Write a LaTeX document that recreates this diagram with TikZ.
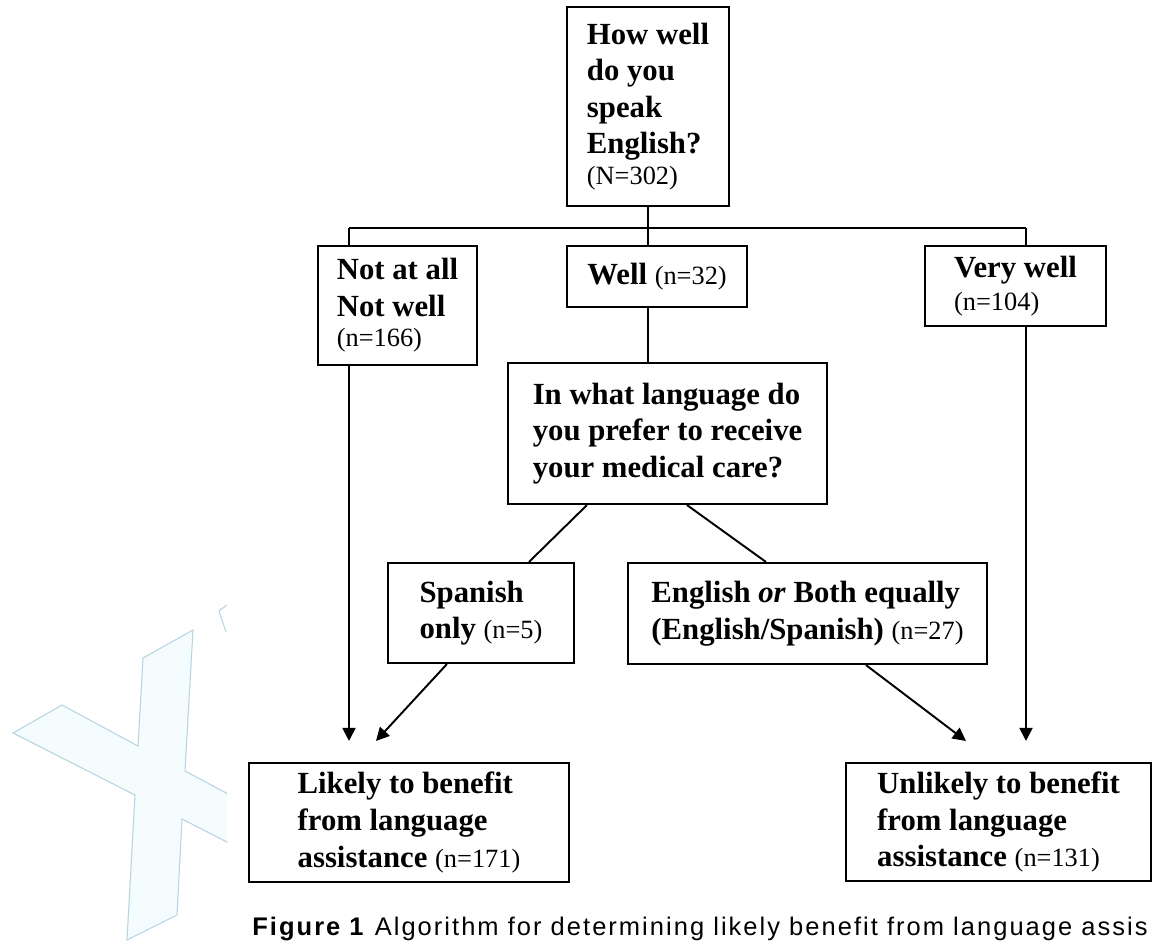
\documentclass[tikz,border=0pt]{standalone}
\usepackage{fontspec}
\setmainfont{Liberation Serif}
\newfontfamily\capfont[LetterSpace=8]{Liberation Sans}
\usepackage{tikz}
\usetikzlibrary{arrows.meta, calc, positioning}
\newcommand{\cnt}[1]{{\mdseries\fontsize{15}{18}\selectfont #1}}

\begin{document}
\begin{tikzpicture}[x=0.02cm, y=-0.02cm,
    box/.style={draw, line width=1.2pt, align=left, inner sep=0pt,
        font=\bfseries\fontsize{17.5}{20.8}\selectfont},
    link/.style={line width=1.1pt},
    arrow/.style={link, -{Triangle[length=7.5pt, width=7.5pt]}},
    wmark/.style={draw=cyan!45!gray!45, fill=cyan!4, line width=0.6pt}]
    \useasboundingbox (0,0) rectangle (1154,944);

    % watermark
    \begin{scope}
        \clip (0,560) rectangle (227,944);
        \draw[wmark] (13,733) -- (62,705) -- (138,746) -- (143,658) -- (193,630) -- (185,771)
            -- (260,811) -- (260,859) -- (182,819) -- (177,915) -- (127,940) -- (135,795) -- cycle;
        \draw[wmark, fill=none] (227,605) -- (219,611) -- (226,632);
    \end{scope}

    % question and answers
    \node[box, minimum width=3.24cm, minimum height=3.98cm] (top) at (648,106.5)
        {How well\\ do you\\ speak\\ English?\\[-3.4pt] \cnt{(N=302)}};
    \node[box, minimum width=3.18cm, minimum height=2.38cm] (nota) at (397.5,305.5)
        {Not at all\\ Not well\\[-3.4pt] \cnt{(n=166)}};
    \node[box, minimum width=3.6cm, minimum height=1.22cm] (well) at (657,276.5)
        {Well \cnt{(n=32)}};
    \node[box, minimum width=3.62cm, minimum height=1.6cm] (vwell) at (1015.5,286)
        {Very well\\[-2pt] \cnt{(n=104)}};

    % second question
    \node[box, minimum width=6.38cm, minimum height=2.82cm] (ques) at (667.5,433.5)
        {In what language do\\ you prefer to receive\\ your medical care?};
    \node[box, minimum width=3.72cm, minimum height=2cm] (sp) at (481,613)
        {Spanish\\ only \cnt{(n=5)}};
    \node[box, minimum width=7.18cm, minimum height=2.02cm] (en) at (807.5,613.5)
        {English \textit{or} Both equally\\ (English/Spanish) \cnt{(n=27)}};

    % outcomes
    \node[box, minimum width=6.4cm, minimum height=2.38cm] (likely) at (409,822.5)
        {Likely to benefit\\ from language\\ assistance \cnt{(n=171)}};
    \node[box, minimum width=6.1cm, minimum height=2.36cm] (unlikely) at (998.5,822)
        {Unlikely to benefit\\ from language\\ assistance \cnt{(n=131)}};

    % branches
    \coordinate (busL) at (349,228);
    \coordinate (busR) at (1026,228);
    \draw[link] (top.south) -- (top.south |- busL);
    \draw[link] (busL) -- (busR);
    \draw[link] (busL) -- (busL |- nota.north);
    \draw[link] (top.south |- busL) -- (top.south |- well.north);
    \draw[link] (busR) -- (busR |- vwell.north);
    \draw[link] (top.south |- well.south) -- (top.south |- ques.north);
    \draw[link] ($(ques.south west)+(80,0)$) -- ($(sp.north west)+(142,0)$);
    \draw[link] ($(ques.south west)+(180,0)$) -- ($(en.north west)+(139,0)$);

    % arrows to outcomes
    \draw[arrow] (busL |- nota.south) -- ($(busL |- likely.north)+(0,-21)$);
    \draw[arrow] ($(sp.south west)+(60,0)$) -- ($(likely.north west)+(128,-21)$);
    \draw[arrow] ($(en.south west)+(239,0)$) -- ($(unlikely.north west)+(121,-21)$);
    \draw[arrow] (busR |- vwell.south) -- ($(busR |- unlikely.north)+(0,-21)$);

    % caption
    \node[anchor=base west, inner sep=0pt, font=\capfont\fontsize{14.5}{17}\selectfont] (cap) at (252,935)
        {\textbf{Figure 1} Algorithm for determining likely benefit from language assis};
\end{tikzpicture}
\end{document}
